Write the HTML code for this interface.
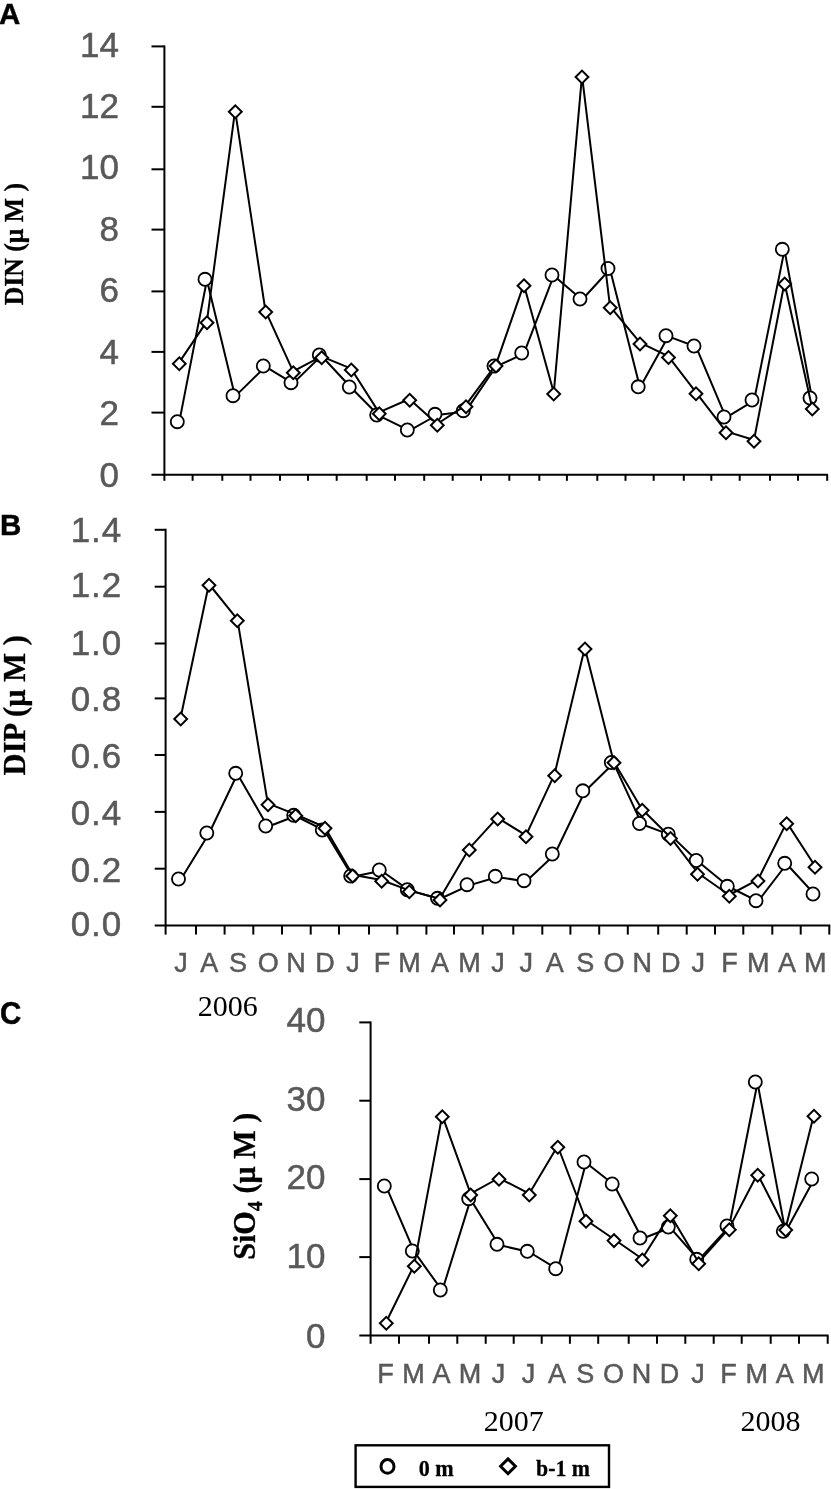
<!DOCTYPE html>
<html lang="en"><head><meta charset="utf-8"><title>Nutrient concentrations</title>
<style>html,body{margin:0;padding:0;background:#fff}svg{display:block}</style></head><body>
<svg width="831" height="1489" viewBox="0 0 831 1489">
<rect width="831" height="1489" fill="#fff"/>
<g font-family="'Liberation Sans',sans-serif" font-weight="bold" font-size="29.5" fill="#000" stroke="#000" stroke-width="0.4">
<text x="-1" y="24.2">A</text><text x="0" y="535.4">B</text><text transform="translate(0 1023.6) scale(1 1.07)">C</text></g>
<g stroke="#000" stroke-width="2.00" fill="none">
<path d="M164.4 45.4V474.8"/>
<path d="M151.5 474.8H828.0"/>
<path d="M151.5 412.6H164.4"/>
<path d="M151.5 351.9H164.4"/>
<path d="M151.5 291.4H164.4"/>
<path d="M151.5 229.6H164.4"/>
<path d="M151.5 169.3H164.4"/>
<path d="M151.5 106.8H164.4"/>
<path d="M151.5 46.4H164.4"/>
<path d="M164.4 474.8V480.8"/>
<path d="M192.6 474.8V480.8"/>
<path d="M222.3 474.8V480.8"/>
<path d="M250.5 474.8V480.8"/>
<path d="M280.0 474.8V480.8"/>
<path d="M308.0 474.8V480.8"/>
<path d="M336.7 474.8V480.8"/>
<path d="M366.7 474.8V480.8"/>
<path d="M395.0 474.8V480.8"/>
<path d="M424.2 474.8V480.8"/>
<path d="M452.7 474.8V480.8"/>
<path d="M481.0 474.8V480.8"/>
<path d="M509.3 474.8V480.8"/>
<path d="M539.3 474.8V480.8"/>
<path d="M566.9 474.8V480.8"/>
<path d="M597.3 474.8V480.8"/>
<path d="M625.5 474.8V480.8"/>
<path d="M653.7 474.8V480.8"/>
<path d="M683.8 474.8V480.8"/>
<path d="M711.3 474.8V480.8"/>
<path d="M739.7 474.8V480.8"/>
<path d="M770.0 474.8V480.8"/>
<path d="M798.0 474.8V480.8"/>
<path d="M827.2 474.8V480.8"/>
</g>
<g font-family="'Liberation Sans','DejaVu Sans',sans-serif" font-size="35" fill="#595959" stroke="#595959" stroke-width="0.5" text-anchor="end">
<text x="119.0" y="487.2">0</text>
<text x="119.0" y="425.2">2</text>
<text x="119.0" y="364.2">4</text>
<text x="119.0" y="302.4">6</text>
<text x="119.0" y="240.7">8</text>
<text x="119.0" y="179.4">10</text>
<text x="119.0" y="118.4">12</text>
<text x="119.0" y="56.9">14</text>
</g>
<polyline fill="none" stroke="#000" stroke-width="2.00" stroke-linejoin="round" points="179.2,422.4 206.9,280.0 235.1,396.4 265.4,366.7 293.1,383.4 321.4,355.7 351.2,387.7 378.9,415.7 409.4,430.7 437.1,415.0 465.6,411.4 495.9,366.7 523.8,353.7 553.8,275.7 582.0,299.7 610.0,269.2 640.0,387.5 668.2,336.4 696.0,346.7 726.0,417.7 754.0,400.7 784.5,250.0 812.1,398.7"/>
<circle cx="177.3" cy="421.7" r="6.55" fill="#fff" stroke="#000" stroke-width="1.80"/>
<circle cx="205.0" cy="279.3" r="6.55" fill="#fff" stroke="#000" stroke-width="1.80"/>
<circle cx="233.0" cy="395.7" r="6.55" fill="#fff" stroke="#000" stroke-width="1.80"/>
<circle cx="263.3" cy="366.0" r="6.55" fill="#fff" stroke="#000" stroke-width="1.80"/>
<circle cx="291.0" cy="382.7" r="6.55" fill="#fff" stroke="#000" stroke-width="1.80"/>
<circle cx="319.3" cy="355.0" r="6.55" fill="#fff" stroke="#000" stroke-width="1.80"/>
<circle cx="349.3" cy="387.0" r="6.55" fill="#fff" stroke="#000" stroke-width="1.80"/>
<circle cx="376.7" cy="415.0" r="6.55" fill="#fff" stroke="#000" stroke-width="1.80"/>
<circle cx="407.3" cy="430.0" r="6.55" fill="#fff" stroke="#000" stroke-width="1.80"/>
<circle cx="435.0" cy="414.3" r="6.55" fill="#fff" stroke="#000" stroke-width="1.80"/>
<circle cx="463.3" cy="410.7" r="6.55" fill="#fff" stroke="#000" stroke-width="1.80"/>
<circle cx="494.0" cy="366.0" r="6.55" fill="#fff" stroke="#000" stroke-width="1.80"/>
<circle cx="521.7" cy="353.0" r="6.55" fill="#fff" stroke="#000" stroke-width="1.80"/>
<circle cx="552.0" cy="275.0" r="6.55" fill="#fff" stroke="#000" stroke-width="1.80"/>
<circle cx="580.0" cy="299.0" r="6.55" fill="#fff" stroke="#000" stroke-width="1.80"/>
<circle cx="608.0" cy="268.5" r="6.55" fill="#fff" stroke="#000" stroke-width="1.80"/>
<circle cx="638.2" cy="386.8" r="6.55" fill="#fff" stroke="#000" stroke-width="1.80"/>
<circle cx="666.0" cy="335.7" r="6.55" fill="#fff" stroke="#000" stroke-width="1.80"/>
<circle cx="694.0" cy="346.0" r="6.55" fill="#fff" stroke="#000" stroke-width="1.80"/>
<circle cx="724.0" cy="417.0" r="6.55" fill="#fff" stroke="#000" stroke-width="1.80"/>
<circle cx="752.0" cy="400.0" r="6.55" fill="#fff" stroke="#000" stroke-width="1.80"/>
<circle cx="782.3" cy="249.3" r="6.55" fill="#fff" stroke="#000" stroke-width="1.80"/>
<circle cx="810.0" cy="398.0" r="6.55" fill="#fff" stroke="#000" stroke-width="1.80"/>
<polyline fill="none" stroke="#000" stroke-width="2.00" stroke-linejoin="round" points="179.2,362.4 206.9,321.4 235.1,110.4 265.4,310.7 293.1,371.4 321.4,356.4 351.2,368.7 378.9,412.4 409.4,399.0 437.1,424.0 465.6,405.4 495.9,364.7 523.8,284.4 553.8,392.7 582.0,75.7 610.0,306.4 640.0,342.7 668.2,356.2 696.0,392.4 726.0,431.4 754.0,440.0 784.5,282.7 812.1,407.7"/>
<path d="M172.9 363.7L179.3 357.3L185.7 363.7L179.3 370.1Z" fill="#fff" stroke="#000" stroke-width="2.00"/>
<path d="M200.6 322.7L207.0 316.3L213.4 322.7L207.0 329.1Z" fill="#fff" stroke="#000" stroke-width="2.00"/>
<path d="M228.9 111.7L235.3 105.3L241.7 111.7L235.3 118.1Z" fill="#fff" stroke="#000" stroke-width="2.00"/>
<path d="M259.3 312.0L265.7 305.6L272.1 312.0L265.7 318.4Z" fill="#fff" stroke="#000" stroke-width="2.00"/>
<path d="M286.9 372.7L293.3 366.3L299.7 372.7L293.3 379.1Z" fill="#fff" stroke="#000" stroke-width="2.00"/>
<path d="M315.3 357.7L321.7 351.3L328.1 357.7L321.7 364.1Z" fill="#fff" stroke="#000" stroke-width="2.00"/>
<path d="M344.9 370.0L351.3 363.6L357.7 370.0L351.3 376.4Z" fill="#fff" stroke="#000" stroke-width="2.00"/>
<path d="M372.9 413.7L379.3 407.3L385.7 413.7L379.3 420.1Z" fill="#fff" stroke="#000" stroke-width="2.00"/>
<path d="M403.3 400.3L409.7 393.9L416.1 400.3L409.7 406.7Z" fill="#fff" stroke="#000" stroke-width="2.00"/>
<path d="M430.9 425.3L437.3 418.9L443.7 425.3L437.3 431.7Z" fill="#fff" stroke="#000" stroke-width="2.00"/>
<path d="M459.6 406.7L466.0 400.3L472.4 406.7L466.0 413.1Z" fill="#fff" stroke="#000" stroke-width="2.00"/>
<path d="M489.6 366.0L496.0 359.6L502.4 366.0L496.0 372.4Z" fill="#fff" stroke="#000" stroke-width="2.00"/>
<path d="M517.6 285.7L524.0 279.3L530.4 285.7L524.0 292.1Z" fill="#fff" stroke="#000" stroke-width="2.00"/>
<path d="M547.3 394.0L553.7 387.6L560.1 394.0L553.7 400.4Z" fill="#fff" stroke="#000" stroke-width="2.00"/>
<path d="M575.6 77.0L582.0 70.6L588.4 77.0L582.0 83.4Z" fill="#fff" stroke="#000" stroke-width="2.00"/>
<path d="M603.8 307.7L610.2 301.3L616.6 307.7L610.2 314.1Z" fill="#fff" stroke="#000" stroke-width="2.00"/>
<path d="M633.6 344.0L640.0 337.6L646.4 344.0L640.0 350.4Z" fill="#fff" stroke="#000" stroke-width="2.00"/>
<path d="M662.1 357.5L668.5 351.1L674.9 357.5L668.5 363.9Z" fill="#fff" stroke="#000" stroke-width="2.00"/>
<path d="M689.6 393.7L696.0 387.3L702.4 393.7L696.0 400.1Z" fill="#fff" stroke="#000" stroke-width="2.00"/>
<path d="M719.6 432.7L726.0 426.3L732.4 432.7L726.0 439.1Z" fill="#fff" stroke="#000" stroke-width="2.00"/>
<path d="M747.6 441.3L754.0 434.9L760.4 441.3L754.0 447.7Z" fill="#fff" stroke="#000" stroke-width="2.00"/>
<path d="M778.3 284.0L784.7 277.6L791.1 284.0L784.7 290.4Z" fill="#fff" stroke="#000" stroke-width="2.00"/>
<path d="M805.9 409.0L812.3 402.6L818.7 409.0L812.3 415.4Z" fill="#fff" stroke="#000" stroke-width="2.00"/>
<g stroke="#000" stroke-width="2.00" fill="none">
<path d="M165.6 528.8V925.6"/>
<path d="M154.7 925.6H830.3"/>
<path d="M154.7 868.7H165.6"/>
<path d="M154.7 811.9H165.6"/>
<path d="M154.7 755.0H165.6"/>
<path d="M154.7 698.4H165.6"/>
<path d="M154.7 643.5H165.6"/>
<path d="M154.7 586.7H165.6"/>
<path d="M154.7 529.8H165.6"/>
<path d="M165.6 925.6V934.6"/>
<path d="M196.0 925.6V934.6"/>
<path d="M224.6 925.6V934.6"/>
<path d="M253.3 925.6V934.6"/>
<path d="M282.0 925.6V934.6"/>
<path d="M310.7 925.6V934.6"/>
<path d="M339.0 925.6V934.6"/>
<path d="M369.0 925.6V934.6"/>
<path d="M397.3 925.6V934.6"/>
<path d="M426.4 925.6V934.6"/>
<path d="M454.0 925.6V934.6"/>
<path d="M482.7 925.6V934.6"/>
<path d="M513.3 925.6V934.6"/>
<path d="M542.3 925.6V934.6"/>
<path d="M570.4 925.6V934.6"/>
<path d="M599.2 925.6V934.6"/>
<path d="M627.8 925.6V934.6"/>
<path d="M658.2 925.6V934.6"/>
<path d="M686.7 925.6V934.6"/>
<path d="M715.0 925.6V934.6"/>
<path d="M743.3 925.6V934.6"/>
<path d="M772.3 925.6V934.6"/>
<path d="M800.7 925.6V934.6"/>
<path d="M829.3 925.6V934.6"/>
</g>
<g font-family="'Liberation Sans','DejaVu Sans',sans-serif" font-size="35" fill="#595959" stroke="#595959" stroke-width="0.5" text-anchor="end" letter-spacing="1">
<text x="122.3" y="936.3">0.0</text>
<text x="122.3" y="881.6">0.2</text>
<text x="122.3" y="824.6">0.4</text>
<text x="122.3" y="767.6">0.6</text>
<text x="122.3" y="710.9">0.8</text>
<text x="122.3" y="654.6">1.0</text>
<text x="122.3" y="597.0">1.2</text>
<text x="122.3" y="542.4">1.4</text>
</g>
<polyline fill="none" stroke="#000" stroke-width="2.00" stroke-linejoin="round" points="180.6,879.7 208.9,833.7 237.4,774.0 267.8,826.7 295.6,816.0 324.6,830.7 352.6,876.7 381.4,870.7 409.2,890.4 439.7,899.0 469.1,885.4 497.4,877.0 526.0,881.4 554.5,854.7 584.8,791.5 613.6,763.2 641.8,824.2 670.3,834.9 697.8,861.2 729.2,887.0 758.0,901.4 786.7,864.0 815.0,894.7"/>
<circle cx="178.5" cy="879.0" r="6.55" fill="#fff" stroke="#000" stroke-width="1.80"/>
<circle cx="206.8" cy="833.0" r="6.55" fill="#fff" stroke="#000" stroke-width="1.80"/>
<circle cx="235.7" cy="773.3" r="6.55" fill="#fff" stroke="#000" stroke-width="1.80"/>
<circle cx="265.7" cy="826.0" r="6.55" fill="#fff" stroke="#000" stroke-width="1.80"/>
<circle cx="293.7" cy="815.3" r="6.55" fill="#fff" stroke="#000" stroke-width="1.80"/>
<circle cx="322.3" cy="830.0" r="6.55" fill="#fff" stroke="#000" stroke-width="1.80"/>
<circle cx="350.7" cy="876.0" r="6.55" fill="#fff" stroke="#000" stroke-width="1.80"/>
<circle cx="379.3" cy="870.0" r="6.55" fill="#fff" stroke="#000" stroke-width="1.80"/>
<circle cx="407.3" cy="889.7" r="6.55" fill="#fff" stroke="#000" stroke-width="1.80"/>
<circle cx="437.5" cy="898.3" r="6.55" fill="#fff" stroke="#000" stroke-width="1.80"/>
<circle cx="467.0" cy="884.7" r="6.55" fill="#fff" stroke="#000" stroke-width="1.80"/>
<circle cx="495.3" cy="876.3" r="6.55" fill="#fff" stroke="#000" stroke-width="1.80"/>
<circle cx="524.0" cy="880.7" r="6.55" fill="#fff" stroke="#000" stroke-width="1.80"/>
<circle cx="552.3" cy="854.0" r="6.55" fill="#fff" stroke="#000" stroke-width="1.80"/>
<circle cx="582.8" cy="790.8" r="6.55" fill="#fff" stroke="#000" stroke-width="1.80"/>
<circle cx="611.3" cy="762.5" r="6.55" fill="#fff" stroke="#000" stroke-width="1.80"/>
<circle cx="639.5" cy="823.5" r="6.55" fill="#fff" stroke="#000" stroke-width="1.80"/>
<circle cx="668.3" cy="834.2" r="6.55" fill="#fff" stroke="#000" stroke-width="1.80"/>
<circle cx="696.2" cy="860.5" r="6.55" fill="#fff" stroke="#000" stroke-width="1.80"/>
<circle cx="727.3" cy="886.3" r="6.55" fill="#fff" stroke="#000" stroke-width="1.80"/>
<circle cx="756.0" cy="900.7" r="6.55" fill="#fff" stroke="#000" stroke-width="1.80"/>
<circle cx="784.7" cy="863.3" r="6.55" fill="#fff" stroke="#000" stroke-width="1.80"/>
<circle cx="813.0" cy="894.0" r="6.55" fill="#fff" stroke="#000" stroke-width="1.80"/>
<polyline fill="none" stroke="#000" stroke-width="2.00" stroke-linejoin="round" points="180.6,717.7 208.9,584.0 237.4,619.4 267.8,803.4 295.6,814.4 324.6,827.0 352.6,874.7 381.4,880.0 409.2,890.4 439.7,898.7 469.1,848.7 497.4,817.7 526.0,835.4 554.5,774.4 584.8,647.7 613.6,761.4 641.8,809.0 670.3,837.2 697.8,873.0 729.2,895.0 758.0,879.7 786.7,822.4 815.0,866.0"/>
<path d="M174.3 719.0L180.7 712.6L187.1 719.0L180.7 725.4Z" fill="#fff" stroke="#000" stroke-width="2.00"/>
<path d="M202.6 585.3L209.0 578.9L215.4 585.3L209.0 591.7Z" fill="#fff" stroke="#000" stroke-width="2.00"/>
<path d="M230.9 620.7L237.3 614.3L243.7 620.7L237.3 627.1Z" fill="#fff" stroke="#000" stroke-width="2.00"/>
<path d="M261.6 804.7L268.0 798.3L274.4 804.7L268.0 811.1Z" fill="#fff" stroke="#000" stroke-width="2.00"/>
<path d="M289.3 815.7L295.7 809.3L302.1 815.7L295.7 822.1Z" fill="#fff" stroke="#000" stroke-width="2.00"/>
<path d="M318.6 828.3L325.0 821.9L331.4 828.3L325.0 834.7Z" fill="#fff" stroke="#000" stroke-width="2.00"/>
<path d="M346.3 876.0L352.7 869.6L359.1 876.0L352.7 882.4Z" fill="#fff" stroke="#000" stroke-width="2.00"/>
<path d="M375.3 881.3L381.7 874.9L388.1 881.3L381.7 887.7Z" fill="#fff" stroke="#000" stroke-width="2.00"/>
<path d="M402.9 891.7L409.3 885.3L415.7 891.7L409.3 898.1Z" fill="#fff" stroke="#000" stroke-width="2.00"/>
<path d="M433.6 900.0L440.0 893.6L446.4 900.0L440.0 906.4Z" fill="#fff" stroke="#000" stroke-width="2.00"/>
<path d="M462.9 850.0L469.3 843.6L475.7 850.0L469.3 856.4Z" fill="#fff" stroke="#000" stroke-width="2.00"/>
<path d="M491.3 819.0L497.7 812.6L504.1 819.0L497.7 825.4Z" fill="#fff" stroke="#000" stroke-width="2.00"/>
<path d="M519.6 836.7L526.0 830.3L532.4 836.7L526.0 843.1Z" fill="#fff" stroke="#000" stroke-width="2.00"/>
<path d="M548.3 775.7L554.7 769.3L561.1 775.7L554.7 782.1Z" fill="#fff" stroke="#000" stroke-width="2.00"/>
<path d="M578.6 649.0L585.0 642.6L591.4 649.0L585.0 655.4Z" fill="#fff" stroke="#000" stroke-width="2.00"/>
<path d="M607.6 762.7L614.0 756.3L620.4 762.7L614.0 769.1Z" fill="#fff" stroke="#000" stroke-width="2.00"/>
<path d="M635.8 810.3L642.2 803.9L648.6 810.3L642.2 816.7Z" fill="#fff" stroke="#000" stroke-width="2.00"/>
<path d="M664.1 838.5L670.5 832.1L676.9 838.5L670.5 844.9Z" fill="#fff" stroke="#000" stroke-width="2.00"/>
<path d="M691.1 874.3L697.5 867.9L703.9 874.3L697.5 880.7Z" fill="#fff" stroke="#000" stroke-width="2.00"/>
<path d="M722.9 896.3L729.3 889.9L735.7 896.3L729.3 902.7Z" fill="#fff" stroke="#000" stroke-width="2.00"/>
<path d="M751.6 881.0L758.0 874.6L764.4 881.0L758.0 887.4Z" fill="#fff" stroke="#000" stroke-width="2.00"/>
<path d="M780.3 823.7L786.7 817.3L793.1 823.7L786.7 830.1Z" fill="#fff" stroke="#000" stroke-width="2.00"/>
<path d="M808.6 867.3L815.0 860.9L821.4 867.3L815.0 873.7Z" fill="#fff" stroke="#000" stroke-width="2.00"/>
<g stroke="#000" stroke-width="2.00" fill="none">
<path d="M370.6 1021.4V1335.5"/>
<path d="M359.3 1335.5H828.5"/>
<path d="M359.3 1257.1H370.6"/>
<path d="M359.3 1179.1H370.6"/>
<path d="M359.3 1100.7H370.6"/>
<path d="M359.3 1022.4H370.6"/>
<path d="M370.6 1335.5V1343.8"/>
<path d="M399.0 1335.5V1343.8"/>
<path d="M429.0 1335.5V1343.8"/>
<path d="M457.3 1335.5V1343.8"/>
<path d="M485.7 1335.5V1343.8"/>
<path d="M513.7 1335.5V1343.8"/>
<path d="M541.7 1335.5V1343.8"/>
<path d="M569.9 1335.5V1343.8"/>
<path d="M598.2 1335.5V1343.8"/>
<path d="M628.7 1335.5V1343.8"/>
<path d="M657.0 1335.5V1343.8"/>
<path d="M685.3 1335.5V1343.8"/>
<path d="M713.7 1335.5V1343.8"/>
<path d="M741.7 1335.5V1343.8"/>
<path d="M770.7 1335.5V1343.8"/>
<path d="M799.0 1335.5V1343.8"/>
<path d="M827.7 1335.5V1343.8"/>
</g>
<g font-family="'Liberation Sans','DejaVu Sans',sans-serif" font-size="35" fill="#595959" stroke="#595959" stroke-width="0.5" text-anchor="end">
<text x="325.5" y="1347.7">0</text>
<text x="325.5" y="1267.5">10</text>
<text x="325.5" y="1189.0">20</text>
<text x="325.5" y="1110.8">30</text>
<text x="325.5" y="1032.3">40</text>
</g>
<polyline fill="none" stroke="#000" stroke-width="2.00" stroke-linejoin="round" points="386.2,1186.7 414.2,1251.7 442.2,1290.7 470.6,1199.4 498.9,1245.0 529.2,1252.0 557.7,1269.4 586.0,1162.7 614.0,1184.7 642.1,1238.7 670.2,1227.7 698.7,1260.0 729.1,1226.7 757.5,1082.7 785.5,1232.0 813.8,1179.7"/>
<circle cx="384.3" cy="1186.0" r="6.55" fill="#fff" stroke="#000" stroke-width="1.80"/>
<circle cx="412.3" cy="1251.0" r="6.55" fill="#fff" stroke="#000" stroke-width="1.80"/>
<circle cx="440.3" cy="1290.0" r="6.55" fill="#fff" stroke="#000" stroke-width="1.80"/>
<circle cx="468.7" cy="1198.7" r="6.55" fill="#fff" stroke="#000" stroke-width="1.80"/>
<circle cx="497.0" cy="1244.3" r="6.55" fill="#fff" stroke="#000" stroke-width="1.80"/>
<circle cx="527.3" cy="1251.3" r="6.55" fill="#fff" stroke="#000" stroke-width="1.80"/>
<circle cx="555.7" cy="1268.7" r="6.55" fill="#fff" stroke="#000" stroke-width="1.80"/>
<circle cx="584.0" cy="1162.0" r="6.55" fill="#fff" stroke="#000" stroke-width="1.80"/>
<circle cx="612.2" cy="1184.0" r="6.55" fill="#fff" stroke="#000" stroke-width="1.80"/>
<circle cx="640.0" cy="1238.0" r="6.55" fill="#fff" stroke="#000" stroke-width="1.80"/>
<circle cx="668.3" cy="1227.0" r="6.55" fill="#fff" stroke="#000" stroke-width="1.80"/>
<circle cx="696.7" cy="1259.3" r="6.55" fill="#fff" stroke="#000" stroke-width="1.80"/>
<circle cx="727.0" cy="1226.0" r="6.55" fill="#fff" stroke="#000" stroke-width="1.80"/>
<circle cx="755.3" cy="1082.0" r="6.55" fill="#fff" stroke="#000" stroke-width="1.80"/>
<circle cx="783.3" cy="1231.3" r="6.55" fill="#fff" stroke="#000" stroke-width="1.80"/>
<circle cx="811.7" cy="1179.0" r="6.55" fill="#fff" stroke="#000" stroke-width="1.80"/>
<polyline fill="none" stroke="#000" stroke-width="2.00" stroke-linejoin="round" points="386.2,1322.0 414.2,1265.0 442.2,1115.4 470.6,1193.7 498.9,1178.0 529.2,1193.7 557.7,1146.0 586.0,1220.0 614.0,1239.3 642.1,1258.7 670.2,1214.4 698.7,1262.4 729.1,1228.4 757.5,1174.0 785.5,1228.7 813.8,1115.0"/>
<path d="M379.9 1323.3L386.3 1316.9L392.7 1323.3L386.3 1329.7Z" fill="#fff" stroke="#000" stroke-width="2.00"/>
<path d="M407.9 1266.3L414.3 1259.9L420.7 1266.3L414.3 1272.7Z" fill="#fff" stroke="#000" stroke-width="2.00"/>
<path d="M435.9 1116.7L442.3 1110.3L448.7 1116.7L442.3 1123.1Z" fill="#fff" stroke="#000" stroke-width="2.00"/>
<path d="M464.3 1195.0L470.7 1188.6L477.1 1195.0L470.7 1201.4Z" fill="#fff" stroke="#000" stroke-width="2.00"/>
<path d="M492.6 1179.3L499.0 1172.9L505.4 1179.3L499.0 1185.7Z" fill="#fff" stroke="#000" stroke-width="2.00"/>
<path d="M522.9 1195.0L529.3 1188.6L535.7 1195.0L529.3 1201.4Z" fill="#fff" stroke="#000" stroke-width="2.00"/>
<path d="M551.4 1147.3L557.8 1140.9L564.2 1147.3L557.8 1153.7Z" fill="#fff" stroke="#000" stroke-width="2.00"/>
<path d="M579.6 1221.3L586.0 1214.9L592.4 1221.3L586.0 1227.7Z" fill="#fff" stroke="#000" stroke-width="2.00"/>
<path d="M607.6 1240.6L614.0 1234.2L620.4 1240.6L614.0 1247.0Z" fill="#fff" stroke="#000" stroke-width="2.00"/>
<path d="M635.9 1260.0L642.3 1253.6L648.7 1260.0L642.3 1266.4Z" fill="#fff" stroke="#000" stroke-width="2.00"/>
<path d="M663.9 1215.7L670.3 1209.3L676.7 1215.7L670.3 1222.1Z" fill="#fff" stroke="#000" stroke-width="2.00"/>
<path d="M692.3 1263.7L698.7 1257.3L705.1 1263.7L698.7 1270.1Z" fill="#fff" stroke="#000" stroke-width="2.00"/>
<path d="M722.9 1229.7L729.3 1223.3L735.7 1229.7L729.3 1236.1Z" fill="#fff" stroke="#000" stroke-width="2.00"/>
<path d="M751.3 1175.3L757.7 1168.9L764.1 1175.3L757.7 1181.7Z" fill="#fff" stroke="#000" stroke-width="2.00"/>
<path d="M779.3 1230.0L785.7 1223.6L792.1 1230.0L785.7 1236.4Z" fill="#fff" stroke="#000" stroke-width="2.00"/>
<path d="M807.6 1116.3L814.0 1109.9L820.4 1116.3L814.0 1122.7Z" fill="#fff" stroke="#000" stroke-width="2.00"/>
<g font-family="'Liberation Sans',sans-serif" font-size="27" fill="#595959" stroke="#595959" stroke-width="0.5" text-anchor="middle">
<text x="180.9" y="972.2">J</text>
<text x="209.2" y="972.2">A</text>
<text x="237.9" y="972.2">S</text>
<text x="268.2" y="972.2">O</text>
<text x="296.0" y="972.2">N</text>
<text x="325.0" y="972.2">D</text>
<text x="353.0" y="972.2">J</text>
<text x="381.9" y="972.2">F</text>
<text x="409.6" y="972.2">M</text>
<text x="440.1" y="972.2">A</text>
<text x="469.5" y="972.2">M</text>
<text x="497.9" y="972.2">J</text>
<text x="526.3" y="972.2">J</text>
<text x="554.8" y="972.2">A</text>
<text x="585.2" y="972.2">S</text>
<text x="614.0" y="972.2">O</text>
<text x="642.2" y="972.2">N</text>
<text x="670.8" y="972.2">D</text>
<text x="698.2" y="972.2">J</text>
<text x="729.6" y="972.2">F</text>
<text x="758.3" y="972.2">M</text>
<text x="787.0" y="972.2">A</text>
<text x="815.3" y="972.2">M</text>
<text x="385.6" y="1383" font-size="27">F</text>
<text x="413.6" y="1383" font-size="27">M</text>
<text x="441.6" y="1383" font-size="27">A</text>
<text x="470.0" y="1383" font-size="27">M</text>
<text x="498.4" y="1383" font-size="27">J</text>
<text x="528.6" y="1383" font-size="27">J</text>
<text x="557.1" y="1383" font-size="27">A</text>
<text x="585.3" y="1383" font-size="27">S</text>
<text x="613.5" y="1383" font-size="27">O</text>
<text x="641.5" y="1383" font-size="27">N</text>
<text x="669.6" y="1383" font-size="27">D</text>
<text x="698.0" y="1383" font-size="27">J</text>
<text x="728.5" y="1383" font-size="27">F</text>
<text x="756.8" y="1383" font-size="27">M</text>
<text x="784.8" y="1383" font-size="27">A</text>
<text x="813.2" y="1383" font-size="27">M</text>
</g>
<g font-family="'Liberation Serif',serif" font-size="30" fill="#000" text-anchor="middle">
<text x="227.7" y="1015.7">2006</text><text x="513.7" y="1431">2007</text><text x="770.5" y="1431">2008</text></g>
<g font-family="'Liberation Serif',serif" font-weight="bold" fill="#000" stroke="#000" stroke-width="0.3" text-anchor="middle">
<text font-size="26.8" textLength="122.5" lengthAdjust="spacingAndGlyphs" transform="translate(23.3 244.1) rotate(-90)">DIN (μ M )</text>
<text font-size="31.5" textLength="140.2" lengthAdjust="spacingAndGlyphs" transform="translate(25.3 705.3) rotate(-90)">DIP (μ M )</text>
<text font-size="31.5" textLength="147" lengthAdjust="spacingAndGlyphs" transform="translate(254.6 1186.3) rotate(-90)">SiO<tspan font-size="21" dy="7">4</tspan><tspan dy="-7"> (μ M )</tspan></text>
</g>
<rect x="355.6" y="1445.3" width="253.4" height="41.6" fill="#fff" stroke="#000" stroke-width="2.4"/>
<ellipse cx="387.5" cy="1466.4" rx="6.5" ry="6.8" fill="#fff" stroke="#000" stroke-width="3"/>
<path d="M500.6 1466.3L508 1458.9L515.4 1466.3L508 1473.7Z" fill="#fff" stroke="#000" stroke-width="3"/>
<g font-family="'Liberation Serif',serif" font-weight="bold" font-size="23" fill="#000" stroke="#000" stroke-width="0.3">
<text x="418.7" y="1476" textLength="35" lengthAdjust="spacingAndGlyphs">0 m</text><text x="536" y="1476" textLength="54" lengthAdjust="spacingAndGlyphs">b-1 m</text></g>
</svg></body></html>
